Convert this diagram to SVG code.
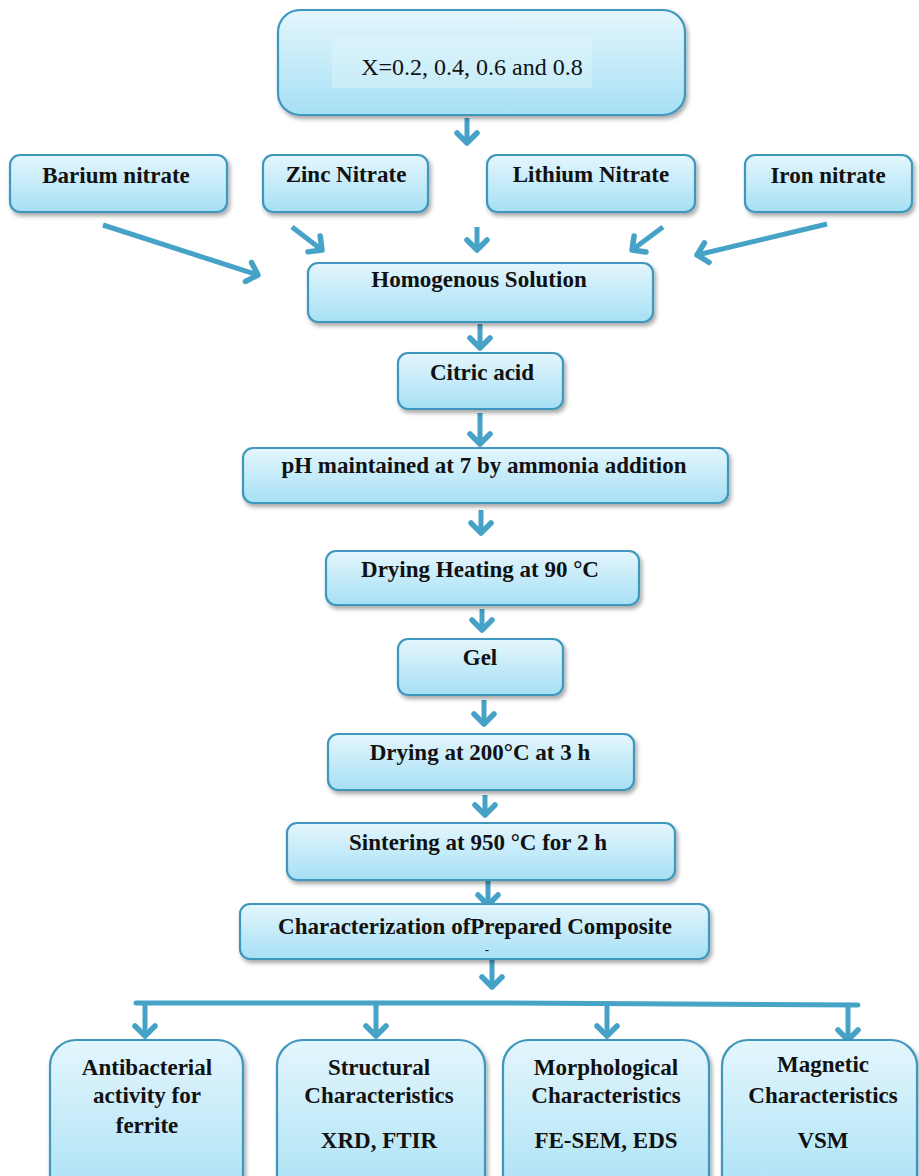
<svg xmlns="http://www.w3.org/2000/svg" width="919" height="1176" viewBox="0 0 919 1176">
<defs>
<linearGradient id="g" x1="0" y1="0" x2="0" y2="1">
<stop offset="0" stop-color="#e4f6fd"/>
<stop offset="1" stop-color="#a6e0f4"/>
</linearGradient>
<filter id="sh" x="-10%" y="-10%" width="130%" height="140%">
<feDropShadow dx="2" dy="3" stdDeviation="2" flood-color="#000" flood-opacity="0.35"/>
</filter>
<marker id="ah" markerUnits="userSpaceOnUse" viewBox="-16 -16 32 32" markerWidth="32" markerHeight="32" refX="0" refY="0" orient="auto" overflow="visible">
<path d="M-10,-10 L0,0 L-10,10" fill="none" stroke="#46a2c6" stroke-width="5.5" stroke-linecap="round" stroke-linejoin="round"/>
</marker>
</defs>
<style>
.box{fill:url(#g);stroke:#3f97bd;stroke-width:2.2;filter:url(#sh)}
.t{font-family:'Liberation Serif','Times New Roman',serif;font-weight:bold;font-size:23px;fill:#111;text-anchor:middle}
.r{font-family:'Liberation Serif','Times New Roman',serif;font-size:24px;fill:#111;text-anchor:middle}
.c{fill:none;stroke:#46a2c6;stroke-width:5;stroke-linecap:round}
.ca{fill:none;stroke:#46a2c6;stroke-width:5;stroke-linecap:butt;marker-end:url(#ah)}
</style>
<rect width="919" height="1176" fill="#ffffff"/>

<g id="connectors">
<line class="ca" x1="467" y1="118" x2="467" y2="143"/>
<line class="ca" x1="477" y1="227" x2="477" y2="250"/>
<line class="ca" x1="103" y1="225" x2="258" y2="275"/>
<line class="ca" x1="292" y1="227" x2="322" y2="250"/>
<line class="ca" x1="663" y1="227" x2="632" y2="250"/>
<line class="ca" x1="827" y1="224" x2="697" y2="255"/>
<line class="ca" x1="480" y1="324" x2="480" y2="348"/>
<line class="ca" x1="480" y1="413" x2="480" y2="444"/>
<line class="ca" x1="481" y1="510" x2="481" y2="533"/>
<line class="ca" x1="482" y1="609" x2="482" y2="630"/>
<line class="ca" x1="484" y1="700" x2="484" y2="724"/>
<line class="ca" x1="485" y1="795" x2="485" y2="815"/>
<line class="ca" x1="488" y1="881" x2="488" y2="905"/>
<line class="ca" x1="492" y1="958" x2="492" y2="987"/>
<path class="c" d="M136,1003 L500,1003 L858,1005" stroke-linecap="butt"/>
<line class="ca" x1="145" y1="1005" x2="145" y2="1036"/>
<line class="ca" x1="376" y1="1005" x2="376" y2="1036"/>
<line class="ca" x1="607" y1="1005" x2="607" y2="1036"/>
<line class="ca" x1="848" y1="1006" x2="848" y2="1040"/>
</g>

<g id="node-x">
<rect class="box" x="278" y="10" width="407" height="105" rx="22"/>
<rect x="332" y="37" width="260" height="51" fill="#e8f8fd" opacity="0.35"/>
<text class="r" x="472" y="75">X=0.2, 0.4, 0.6 and 0.8</text>
</g>
<g id="node-barium">
<rect class="box" x="10" y="155" width="217" height="57" rx="10"/>
<text class="t" x="116" y="183">Barium nitrate</text>
</g>
<g id="node-zinc">
<rect class="box" x="263" y="155" width="165" height="57" rx="10"/>
<text class="t" x="346" y="182">Zinc Nitrate</text>
</g>
<g id="node-lithium">
<rect class="box" x="487" y="155" width="208" height="57" rx="10"/>
<text class="t" x="591" y="182">Lithium Nitrate</text>
</g>
<g id="node-iron">
<rect class="box" x="745" y="155" width="167" height="57" rx="10"/>
<text class="t" x="828" y="183">Iron nitrate</text>
</g>
<g id="node-homog">
<rect class="box" x="308" y="263" width="345" height="59" rx="10"/>
<text class="t" x="479" y="287">Homogenous Solution</text>
</g>
<g id="node-citric">
<rect class="box" x="398" y="353" width="165" height="56" rx="10"/>
<text class="t" x="482" y="380">Citric acid</text>
</g>
<g id="node-ph">
<rect class="box" x="243" y="448" width="485" height="55" rx="10"/>
<text class="t" x="484" y="473">pH maintained at 7 by ammonia addition</text>
</g>
<g id="node-dryheat">
<rect class="box" x="326" y="551" width="313" height="54" rx="10"/>
<text class="t" x="480" y="577">Drying Heating at 90 °C</text>
</g>
<g id="node-gel">
<rect class="box" x="398" y="639" width="165" height="56" rx="10"/>
<text class="t" x="480" y="665">Gel</text>
</g>
<g id="node-dry200">
<rect class="box" x="328" y="734" width="306" height="56" rx="10"/>
<text class="t" x="480" y="760">Drying at 200°C at 3 h</text>
</g>
<g id="node-sinter">
<rect class="box" x="287" y="823" width="388" height="57" rx="10"/>
<text class="t" x="478" y="850">Sintering at 950 °C  for 2 h</text>
</g>
<g id="node-char">
<rect class="box" x="240" y="904" width="469" height="55" rx="10"/>
<text class="t" x="475" y="934">Characterization ofPrepared Composite</text>
<text class="t" x="487" y="954" style="font-size:12px">-</text>
</g>
<g id="node-antibacterial">
<rect class="box" x="50" y="1040" width="193" height="170" rx="26"/>
<text class="t" x="147" y="1075">Antibacterial</text>
<text class="t" x="147" y="1103">activity for</text>
<text class="t" x="147" y="1133">ferrite</text>
</g>
<g id="node-structural">
<rect class="box" x="277" y="1040" width="208" height="170" rx="26"/>
<text class="t" x="379" y="1075">Structural</text>
<text class="t" x="379" y="1103">Characteristics</text>
<text class="t" x="379" y="1148">XRD, FTIR</text>
</g>
<g id="node-morph">
<rect class="box" x="503" y="1040" width="206" height="170" rx="26"/>
<text class="t" x="606" y="1075">Morphological</text>
<text class="t" x="606" y="1103">Characteristics</text>
<text class="t" x="606" y="1148">FE-SEM, EDS</text>
</g>
<g id="node-magnetic">
<rect class="box" x="722" y="1040" width="195" height="170" rx="26"/>
<text class="t" x="823" y="1072">Magnetic</text>
<text class="t" x="823" y="1103">Characteristics</text>
<text class="t" x="823" y="1148">VSM</text>
</g>
</svg>
